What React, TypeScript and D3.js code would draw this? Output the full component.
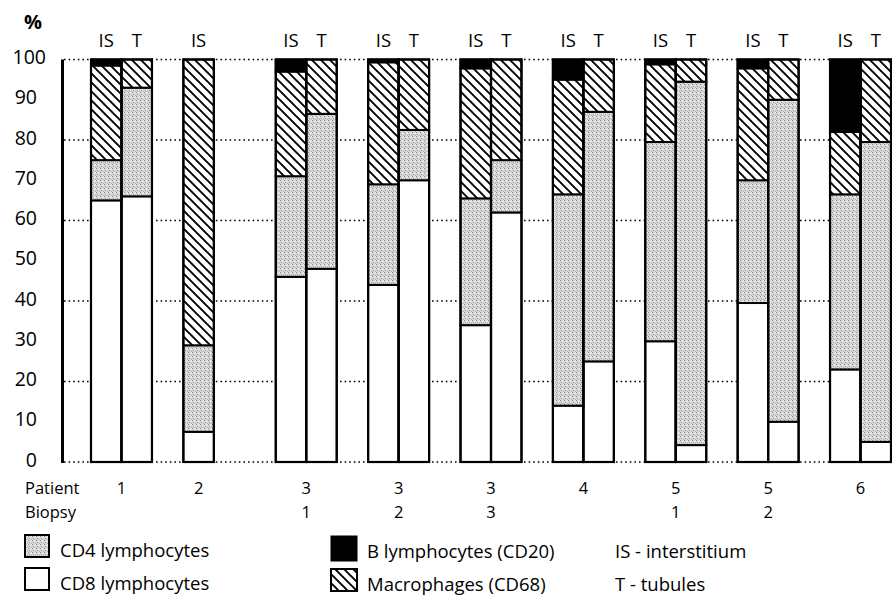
import React from "react";
import * as d3 from "d3";

const patients = ["1", "2", "3", "3", "3", "4", "5", "5", "6"];
const biopsies = ["", "", "1", "2", "3", "", "1", "2", ""];
// bars: group index, site
const barGroup = [0, 0, 1, 2, 2, 3, 3, 4, 4, 5, 5, 6, 6, 7, 7, 8, 8];
const barSite = ["IS", "T", "IS", "IS", "T", "IS", "T", "IS", "T", "IS", "T", "IS", "T", "IS", "T", "IS", "T"];
// segment values (%), bottom to top
const cd8 = [65, 66, 7.5, 46, 48, 44, 70, 34, 62, 14, 25, 30, 4.2, 39.5, 10, 23, 5];
const cd4 = [10, 27, 21.5, 25, 38.5, 25, 12.5, 31.5, 13, 52.5, 62, 49.5, 90.3, 30.5, 80, 43.5, 74.5];
const macro = [23.5, 7, 71, 26, 13.5, 30.3, 17.5, 32.3, 25, 28.5, 13, 19.3, 5.5, 27.8, 10, 15.5, 20.5];
const bcells = [1.5, 0, 0, 3, 0, 0.7, 0, 2.2, 0, 5, 0, 1.2, 0, 2.2, 0, 18, 0];
const yTicks = [0, 10, 20, 30, 40, 50, 60, 70, 80, 90, 100];
const gridTicks = [0, 20, 40, 60, 80, 100];

const W = 892;
const H = 596;
const FONT = "'Open Sans', 'DejaVu Sans', sans-serif";

const keys = ["cd8", "cd4", "macro", "b"];
const fills: Record<string, string> = {
  cd8: "#ffffff",
  cd4: "url(#stipple)",
  macro: "url(#hatch)",
  b: "#000000",
};

export default function App() {
  const rows = barGroup.map((g, i) => ({
    i,
    group: g,
    site: barSite[i],
    cd8: cd8[i],
    cd4: cd4[i],
    macro: macro[i],
    b: bcells[i],
  }));
  const stack = d3.stack<any>().keys(keys);
  const series = stack(rows);

  const y = d3.scaleLinear().domain([0, 100]).range([462, 59.5]);
  const xGroup = d3
    .scaleBand<number>()
    .domain(d3.range(patients.length))
    .range([91, 891])
    .paddingInner(0.34)
    .paddingOuter(0);
  const xSite = d3.scaleBand<string>().domain(["IS", "T"]).range([0, xGroup.bandwidth()]);
  const bx = (i: number) => (xGroup(barGroup[i]) as number) + (xSite(barSite[i]) as number);
  const bw = xSite.bandwidth();

  const groupCenter = (g: number) => {
    const idx = barGroup.map((gg, i) => (gg === g ? i : -1)).filter((i) => i >= 0);
    const x0 = d3.min(idx, (i) => bx(i)) as number;
    const x1 = d3.max(idx, (i) => bx(i) + bw) as number;
    return (x0 + x1) / 2;
  };

  const fs = 18.5;
  const rfs = 16.5;
  const tfs = 19.5;

  return (
    <svg width={W} height={H} style={{ position: "absolute", left: 0, top: 0, background: "#fff" }}>
      <defs>
        <pattern id="stipple" width="4" height="4" patternUnits="userSpaceOnUse">
          <rect width="4" height="4" fill="#d6d6d6" />
          <rect x="0" y="0" width="1" height="1" fill="#8a8a8a" />
          <rect x="2" y="1" width="1" height="1" fill="#f4f4f4" />
          <rect x="1" y="2" width="1" height="1" fill="#9a9a9a" />
          <rect x="3" y="3" width="1" height="1" fill="#b0b0b0" />
          <rect x="3" y="0" width="1" height="1" fill="#f0f0f0" />
        </pattern>
        <pattern id="hatch" width="9" height="9" patternUnits="userSpaceOnUse">
          <rect width="9" height="9" fill="#fff" />
          <path d="M-1,-1 L10,10 M-1,8 L1,10 M8,-1 L10,1" stroke="#000" strokeWidth="1.9" />
        </pattern>
      </defs>

      {/* % label */}
      <text x={24} y={29} fontFamily={FONT} fontSize={20} fontWeight="bold">%</text>

      {/* gridlines */}
      {gridTicks.map((t) => (
        <line key={t} x1={64} x2={892} y1={y(t)} y2={y(t)} stroke="#000" strokeWidth={1.3} strokeDasharray="1.6,3" />
      ))}

      {/* tick labels */}
      {yTicks.map((t) => (
        <text
          key={t}
          x={t === 100 ? 46 : 37}
          y={y(t) - 3}
          textAnchor="end"
          dominantBaseline="central"
          fontFamily={FONT}
          fontSize={tfs}
        >
          {t}
        </text>
      ))}

      {/* y axis line */}
      <line x1={62.5} x2={62.5} y1={y(100)} y2={y(0) + 1} stroke="#000" strokeWidth={3} />

      {/* bars */}
      {series.map((s) => (
        <g key={s.key}>
          {s.map((d, i) =>
            d[1] - d[0] > 0 ? (
              <rect
                key={i}
                x={bx(i)}
                y={y(d[1])}
                width={bw}
                height={y(d[0]) - y(d[1])}
                fill={fills[s.key]}
                stroke="#000"
                strokeWidth={2}
              />
            ) : null
          )}
        </g>
      ))}
      {rows.map((r) => (
        <rect key={"o" + r.i} x={bx(r.i)} y={y(100)} width={bw} height={y(0) - y(100)} fill="none" stroke="#000" strokeWidth={2.2} />
      ))}

      {/* site headers */}
      {rows.map((r) => (
        <text key={"h" + r.i} x={bx(r.i) + bw / 2} y={47} textAnchor="middle" fontFamily={FONT} fontSize={fs}>
          {r.site}
        </text>
      ))}

      {/* patient / biopsy rows */}
      <text x={25} y={494} fontFamily={FONT} fontSize={rfs}>Patient</text>
      <text x={25} y={517.5} fontFamily={FONT} fontSize={rfs}>Biopsy</text>
      {patients.map((p, g) => (
        <text key={"p" + g} x={groupCenter(g)} y={494} textAnchor="middle" fontFamily={FONT} fontSize={rfs}>{p}</text>
      ))}
      {biopsies.map((b, g) =>
        b ? (
          <text key={"b" + g} x={groupCenter(g)} y={517.5} textAnchor="middle" fontFamily={FONT} fontSize={rfs}>{b}</text>
        ) : null
      )}

      {/* legend */}
      <rect x={25} y={535} width={24} height={22} fill="url(#stipple)" stroke="#000" strokeWidth={2} />
      <text x={60} y={557} fontFamily={FONT} fontSize={fs}>CD4 lymphocytes</text>
      <rect x={25} y={568} width={24} height={22} fill="#fff" stroke="#000" strokeWidth={2} />
      <text x={60} y={590} fontFamily={FONT} fontSize={fs}>CD8 lymphocytes</text>
      <rect x={331} y={536} width={26} height={25} fill="#000" stroke="#000" strokeWidth={1} />
      <text x={367} y={558} fontFamily={FONT} fontSize={fs}>B lymphocytes (CD20)</text>
      <rect x={331} y={569} width={26} height={22} fill="url(#hatch)" stroke="#000" strokeWidth={2} />
      <text x={367} y={591} fontFamily={FONT} fontSize={fs}>Macrophages (CD68)</text>
      <text x={615} y={558} fontFamily={FONT} fontSize={fs}>IS - interstitium</text>
      <text x={615} y={591} fontFamily={FONT} fontSize={fs}>T - tubules</text>
    </svg>
  );
}
